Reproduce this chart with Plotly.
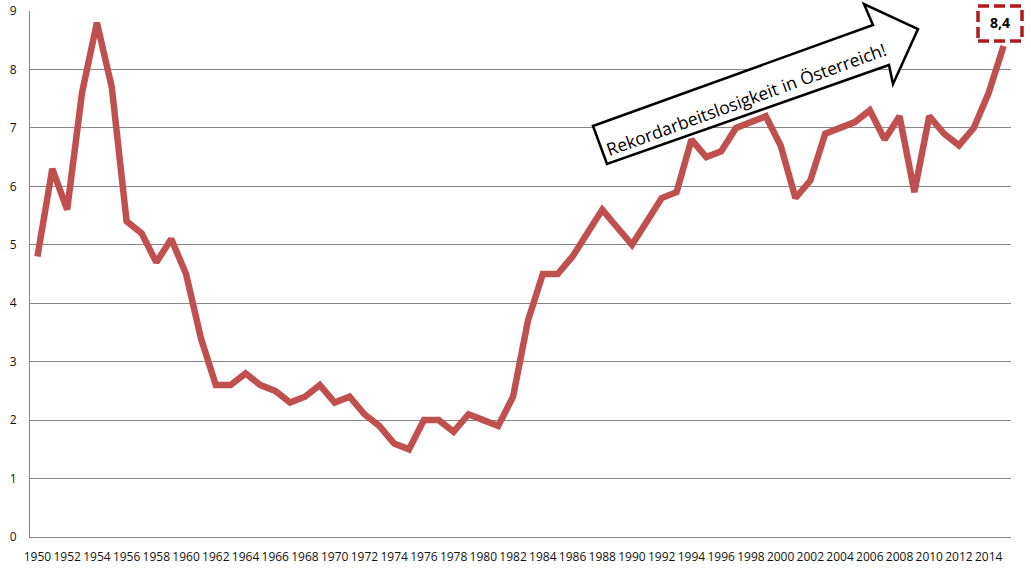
import plotly.graph_objects as go

years = list(range(1950, 2016))
rate = [4.8, 6.3, 5.6, 7.6, 8.8, 7.7, 5.4, 5.2, 4.7, 5.1,
        4.5, 3.4, 2.6, 2.6, 2.8, 2.6, 2.5, 2.3, 2.4, 2.6,
        2.3, 2.4, 2.1, 1.9, 1.6, 1.5, 2.0, 2.0, 1.8, 2.1,
        2.0, 1.9, 2.4, 3.7, 4.5, 4.5, 4.8, 5.2, 5.6, 5.3,
        5.0, 5.4, 5.8, 5.9, 6.8, 6.5, 6.6, 7.0, 7.1, 7.2,
        6.7, 5.8, 6.1, 6.9, 7.0, 7.1, 7.3, 6.8, 7.2, 5.9,
        7.2, 6.9, 6.7, 7.0, 7.6, 8.4]
tick_years = list(range(1950, 2015, 2))
y_ticks = list(range(0, 10))
arrow_text = "Rekordarbeitslosigkeit in Österreich!"
last_label = f"{rate[-1]:.1f}".replace(".", ",")

W, H = 1031, 573
L, R, T, B = 30, 20, 11, 36
PW, PH = W - L - R, H - T - B


def px(x):
    return (x - L) / PW


def py(y):
    return (H - B - y) / PH


fig = go.Figure()
fig.add_trace(go.Scatter(
    x=years, y=rate, mode="lines",
    line=dict(color="#C0504D", width=6.5),
    hoverinfo="x+y", showlegend=False,
))

# arrow callout
pts = [(593, 126), (873, 25), (864, 4), (918, 29), (893, 84), (889, 65), (607, 164)]
path = "M " + " L ".join(f"{px(a):.5f},{py(b):.5f}" for a, b in pts) + " Z"
fig.add_shape(type="path", path=path, xref="paper", yref="paper",
              line=dict(color="black", width=2.5), fillcolor="white", layer="above")
fig.add_annotation(x=px(746), y=py(99), xref="paper", yref="paper",
                   xanchor="center", yanchor="middle",
                   text=arrow_text, textangle=-20, showarrow=False,
                   font=dict(family="Open Sans", size=17.5, color="black"))

# value box
fig.add_shape(type="rect", xref="paper", yref="paper",
              x0=px(978), x1=px(1022), y0=py(41), y1=py(6),
              line=dict(color="#B01A1E", width=3.5, dash="11px,5px"),
              fillcolor="white", layer="above")
fig.add_annotation(x=px(1000), y=py(23), xref="paper", yref="paper",
                   xanchor="center", yanchor="middle",
                   text=f"<b>{last_label}</b>", showarrow=False,
                   font=dict(family="Open Sans", size=14, color="black"))

fig.update_layout(
    width=W, height=H,
    margin=dict(l=L, r=R, t=T, b=B, pad=0, autoexpand=False),
    paper_bgcolor="white", plot_bgcolor="white",
    font=dict(family="Open Sans", color="#111111"),
)
fig.update_xaxes(
    range=[1949.5, 2015.5], tickmode="array", tickvals=tick_years,
    ticktext=[str(t) for t in tick_years], tickangle=0, automargin=False,
    showgrid=False, zeroline=False, showline=True, linecolor="#868686", linewidth=1,
    ticks="", tickfont=dict(size=12, color="#111111"), ticklabelstandoff=9,
)
fig.update_yaxes(
    range=[0, 9], tickmode="array", tickvals=y_ticks, automargin=False,
    showgrid=True, gridcolor="#868686", gridwidth=1, zeroline=False,
    showline=True, linecolor="#868686", linewidth=1,
    ticks="", tickfont=dict(size=12, color="#111111"), ticklabelstandoff=10,
)

fig.write_html("out.html", config={"displayModeBar": False},
               post_script="document.body.style.margin='0';")
